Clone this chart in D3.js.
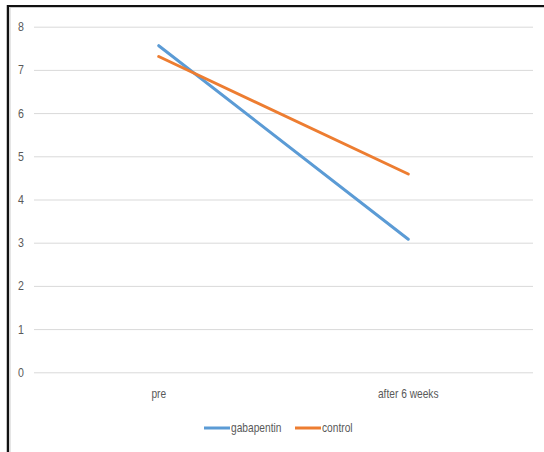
<!DOCTYPE html>
<html>
<head>
<meta charset="utf-8">
<script src="https://cdn.jsdelivr.net/npm/d3@7"></script>
<style>
  html, body { margin: 0; padding: 0; background: #fff; }
  svg { display: block; }
  text { font-family: "Liberation Sans", Arial, sans-serif; fill: #595959; }
</style>
</head>
<body>
<svg id="chart" width="544" height="452"></svg>
<script>
const categories = ["pre", "after 6 weeks"];
const gabapentin = [7.56, 3.08];
const control = [7.31, 4.59];
const seriesNames = ["gabapentin", "control"];
const seriesColors = ["#5B9BD5", "#ED7D31"];
const yTicks = [0, 1, 2, 3, 4, 5, 6, 7, 8];

const svg = d3.select("#chart");
const W = 544, H = 452;
const SX = 0.85; // horizontal condense to mimic a narrow font

svg.append("rect").attr("x", 0).attr("y", 0).attr("width", W).attr("height", H).attr("fill", "#fff");
svg.append("line").attr("x1", 8).attr("x2", 8).attr("y1", 5).attr("y2", H).attr("stroke", "#111").attr("stroke-width", 2.5);
svg.append("line").attr("x1", 10).attr("x2", 10).attr("y1", 7).attr("y2", H).attr("stroke", "#ddd").attr("stroke-width", 1.5);
svg.append("line").attr("x1", 7).attr("x2", W).attr("y1", 6).attr("y2", 6).attr("stroke", "#111").attr("stroke-width", 2);
svg.append("line").attr("x1", 10).attr("x2", W).attr("y1", 7.5).attr("y2", 7.5).attr("stroke", "#ccc").attr("stroke-width", 1);

const x = d3.scaleBand().domain(categories).range([34, 533]);
const y = d3.scaleLinear().domain([0, 8]).range([372.3, 26.7]);

const yAxis = d3.axisLeft(y).tickValues(yTicks).tickSize(-(533 - 34)).tickFormat(d3.format("d"));
const gy = svg.append("g").attr("transform", "translate(34,0)").call(yAxis);
gy.select(".domain").remove();
gy.selectAll(".tick line").attr("stroke", "#d9d9d9").attr("stroke-width", 1);
gy.selectAll(".tick text").attr("x", -13 / SX).attr("text-anchor", "middle").attr("transform", `scale(${SX},1)`)
  .attr("font-size", 12.5).style("font-family", "\"Liberation Sans\", Arial, sans-serif").attr("fill", "#595959");

const xAxis = d3.axisBottom(x).tickSize(0);
const gx = svg.append("g").attr("transform", "translate(0,372.3)").call(xAxis);
gx.select(".domain").remove();
gx.selectAll(".tick text").attr("dy", 0).attr("y", 26).attr("transform", `scale(${SX},1)`)
  .attr("font-size", 12).style("font-family", "\"Liberation Sans\", Arial, sans-serif").attr("fill", "#595959");

const seriesData = [gabapentin, control];
const line = d3.line().x((d, i) => x(categories[i]) + x.bandwidth() / 2).y(d => y(d));
seriesData.forEach((vals, si) => {
  svg.append("path").datum(vals).attr("d", line)
    .attr("fill", "none").attr("stroke", seriesColors[si]).attr("stroke-width", 3).attr("stroke-linecap", "round");
});

const legendPos = [204, 295];
seriesNames.forEach((name, i) => {
  const g = svg.append("g").attr("transform", `translate(${legendPos[i]},428)`);
  g.append("line").attr("x1", 0).attr("x2", 26).attr("y1", 0).attr("y2", 0)
    .attr("stroke", seriesColors[i]).attr("stroke-width", 3);
  g.append("text").attr("x", 27).attr("y", 0).attr("dy", "0.35em").attr("font-size", 12)
    .attr("transform", `translate(27,0) scale(${SX},1) translate(-27,0)`).text(name);
});
</script>
</body>
</html>
